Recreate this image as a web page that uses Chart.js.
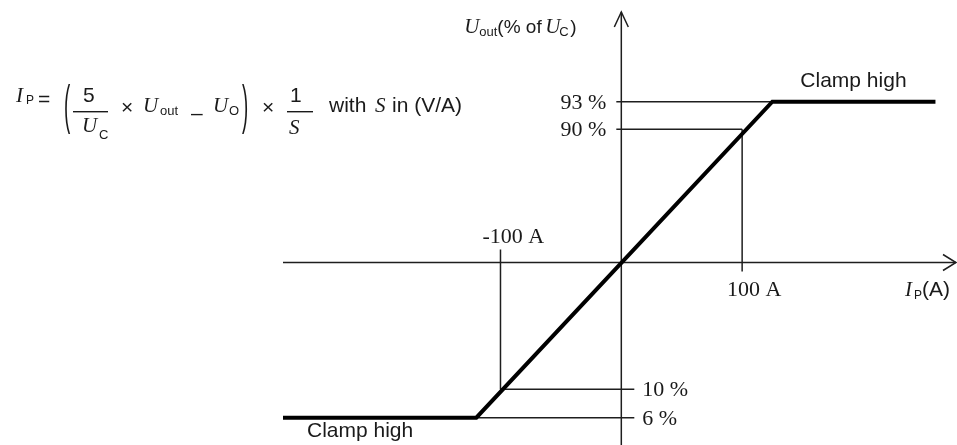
<!DOCTYPE html>
<html><head><meta charset="utf-8">
<script src="https://cdn.jsdelivr.net/npm/chart.js@4.4.1/dist/chart.umd.min.js"></script>
<style>html,body{margin:0;padding:0;background:#fff}#wrap{width:957px;height:445px;position:relative}</style>
</head><body><div id="wrap"><canvas id="c"></canvas></div>
<script>
// ---------------- data ----------------
const transferCurrentA = [-280, -120, 125, 260];   // I_P (A) of the transfer curve vertices
const transferOutputPct = [6, 6, 93, 93];          // U_out (% of U_C)
const markCurrentsA = [100, -100];                 // marked currents
const markOutputsPct = [90, 10];                   // output at marked currents
const clampLevelsPct = [93, 6];
const clampLabels = ["Clamp high", "Clamp high"];
const yTickValues = [93, 90, 10, 6];
const yTickLabels = ["93 %", "90 %", "10 %", "6 %"];
const xTickValues = [-100, 100];
const xTickLabels = ["-100 A", "100 A"];
const originOutputPct = 50;

// ---------------- layout (schematic, non-proportional U_out axis) ----------------
const yLayoutStops = [[6, 0.063], [10, 0.1286], [50, 0.4215], [90, 0.7291], [93, 0.7928]];

class SchematicScale extends Chart.LinearScale {
  _dec(v) {
    const s = yLayoutStops;
    let i = 0;
    if (v >= s[s.length - 1][0]) i = s.length - 2;
    else if (v > s[0][0]) { while (v > s[i + 1][0]) i++; }
    const [v0, d0] = s[i], [v1, d1] = s[i + 1];
    return d0 + (v - v0) * (d1 - d0) / (v1 - v0);
  }
  getPixelForValue(v) { return this.getPixelForDecimal(this._dec(v)); }
  getValueForPixel(p) {
    const d = this.getDecimalForPixel(p), s = yLayoutStops;
    let i = 0;
    if (d >= s[s.length - 1][1]) i = s.length - 2;
    else if (d > s[0][1]) { while (d > s[i + 1][1]) i++; }
    const [v0, d0] = s[i], [v1, d1] = s[i + 1];
    return v0 + (d - d0) * (v1 - v0) / (d1 - d0);
  }
}
SchematicScale.id = 'schematic';
SchematicScale.defaults = Chart.LinearScale.defaults;
Chart.register(SchematicScale);

const SANS = '"Liberation Sans", Arial, sans-serif';
const SERIF = '"Liberation Serif", "Times New Roman", serif';
const INK = '#1a1a1a';

function txt(ctx, s, x, y, font, align) {
  ctx.font = font; ctx.textAlign = align || 'left'; ctx.textBaseline = 'alphabetic';
  ctx.fillText(s, x, y);
}
function bigParen(ctx, s, x, yTop, h) {
  ctx.save();
  ctx.font = '22px ' + SANS; ctx.textAlign = 'left'; ctx.textBaseline = 'top';
  const k = h / 22;
  ctx.translate(x, yTop); ctx.scale(0.85, k);
  ctx.fillText(s, 0, 0);
  ctx.restore();
}

const schematicPlugin = {
  id: 'schematic',
  beforeDatasetsDraw(chart) {
    const { ctx, chartArea: a, scales: { x, y } } = chart;
    const x0 = x.getPixelForValue(0), y0 = y.getPixelForValue(originOutputPct);
    ctx.save();
    ctx.strokeStyle = '#1e1e1e'; ctx.lineWidth = 1.5; ctx.lineCap = 'butt';
    const seg = (ax, ay, bx, by) => { ctx.beginPath(); ctx.moveTo(ax, ay); ctx.lineTo(bx, by); ctx.stroke(); };
    // axes with open arrow heads
    seg(a.left, y0, a.right, y0);
    seg(x0, a.top, x0, a.bottom);
    ctx.beginPath(); ctx.moveTo(a.right - 13, y0 - 8); ctx.lineTo(a.right, y0); ctx.lineTo(a.right - 13, y0 + 8); ctx.stroke();
    ctx.beginPath(); ctx.moveTo(x0 - 7, a.top + 15); ctx.lineTo(x0, a.top); ctx.lineTo(x0 + 7, a.top + 15); ctx.stroke();
    // clamp guide lines
    clampLevelsPct.forEach(lv => {
      const py = y.getPixelForValue(lv);
      let kx = null;
      transferCurrentA.forEach((c, i) => {
        if (transferOutputPct[i] === lv && (kx === null || Math.abs(c) < Math.abs(kx))) kx = c;
      });
      const px = x.getPixelForValue(kx);
      if (lv > originOutputPct) seg(x0 - 5, py, px, py); else seg(px, py, x0 + 13, py);
    });
    // marked points guide lines
    markCurrentsA.forEach((c, i) => {
      const px = x.getPixelForValue(c), py = y.getPixelForValue(markOutputsPct[i]);
      if (c > 0) { seg(x0 - 5, py, px, py); seg(px, py, px, y0 + 9); }
      else { seg(px, py, x0 + 13, py); seg(px, y0 - 13, px, py); }
    });
    ctx.restore();
  },
  afterDraw(chart) {
    const { ctx, chartArea: a, scales: { x, y } } = chart;
    const x0 = x.getPixelForValue(0), y0 = y.getPixelForValue(originOutputPct);
    ctx.save();
    ctx.fillStyle = INK;
    const LBL = '22px ' + SERIF;
    // y tick labels
    yTickValues.forEach((v, i) => {
      const py = y.getPixelForValue(v) + 7;
      if (v > originOutputPct) txt(ctx, yTickLabels[i], x0 - 15, py, LBL, 'right');
      else txt(ctx, yTickLabels[i], x0 + 21, py, LBL, 'left');
    });
    // x tick labels
    xTickValues.forEach((v, i) => {
      const px = x.getPixelForValue(v);
      if (v < 0) txt(ctx, xTickLabels[i], px - 18, y0 - 19, LBL, 'left');
      else txt(ctx, xTickLabels[i], px + 12, y0 + 34, LBL, 'center');
    });
    // clamp labels
    clampLevelsPct.forEach((lv, i) => {
      const py = y.getPixelForValue(lv);
      if (lv > originOutputPct) {
        const kx = x.getPixelForValue(transferCurrentA[2]);
        txt(ctx, clampLabels[i], kx + 28, py - 15, '21px ' + SANS);
      } else {
        txt(ctx, clampLabels[i], a.left + 24, py + 19, '21px ' + SANS);
      }
    });
    // x axis title  I_P(A)
    const bx = a.right - 51, by = y0 + 34;
    txt(ctx, 'I', bx, by, 'italic 21px ' + SERIF);
    txt(ctx, 'P', bx + 9, by + 3, '12px ' + SANS);
    txt(ctx, '(A)', bx + 17, by, '21px ' + SANS);
    // y axis title  U_out(% of U_C)
    const tx = x0 - 157, ty = a.top + 21;
    txt(ctx, 'U', tx, ty, 'italic 21px ' + SERIF);
    txt(ctx, 'out', tx + 15, ty + 3, '13px ' + SANS);
    txt(ctx, '(% of ', tx + 33, ty, '19px ' + SANS);
    txt(ctx, 'U', tx + 81, ty, 'italic 21px ' + SERIF);
    txt(ctx, 'C', tx + 95, ty + 3, '13px ' + SANS);
    txt(ctx, ')', tx + 106, ty, '19px ' + SANS);
    // formula
    txt(ctx, 'I', 16, 102, 'italic 21px ' + SERIF);
    txt(ctx, 'P', 26, 104, '12px ' + SANS);
    txt(ctx, '=', 38, 106, '21px ' + SANS);
    bigParen(ctx, '(', 64, 82, 53);
    txt(ctx, '5', 83, 102, '21px ' + SANS);
    ctx.fillRect(73, 111, 35, 1.4);
    txt(ctx, 'U', 82, 132, 'italic 21px ' + SERIF);
    txt(ctx, 'C', 99, 139, '13px ' + SANS);
    txt(ctx, '×', 121, 114, '21px ' + SANS);
    txt(ctx, 'U', 143, 112, 'italic 21px ' + SERIF);
    txt(ctx, 'out', 160, 115, '13px ' + SANS);
    txt(ctx, '–', 191, 120, '21px ' + SANS);
    txt(ctx, 'U', 213, 112, 'italic 21px ' + SERIF);
    txt(ctx, 'O', 229, 115, '13px ' + SANS);
    bigParen(ctx, ')', 242, 82, 53);
    txt(ctx, '×', 262, 114, '21px ' + SANS);
    txt(ctx, '1', 290, 102, '21px ' + SANS);
    ctx.fillRect(287, 111, 26, 1.4);
    txt(ctx, 'S', 289, 134, 'italic 21px ' + SERIF);
    txt(ctx, 'with', 329, 112, '21px ' + SANS);
    txt(ctx, 'S', 375, 112, 'italic 21px ' + SERIF);
    txt(ctx, 'in (V/A)', 392, 112, '21px ' + SANS);
    ctx.restore();
  }
};

new Chart(document.getElementById('c'), {
  type: 'line',
  data: {
    datasets: [{
      label: 'U_out',
      data: transferCurrentA.map((c, i) => ({ x: c, y: transferOutputPct[i] })),
      borderColor: '#000',
      borderWidth: 4,
      pointRadius: 0,
      tension: 0,
      fill: false,
      borderJoinStyle: 'miter',
      clip: false
    }]
  },
  options: {
    responsive: true,
    maintainAspectRatio: false,
    animation: false,
    layout: { padding: { left: 283, top: 12, right: 1, bottom: 0 } },
    plugins: { legend: { display: false }, tooltip: { enabled: false } },
    scales: {
      x: { type: 'linear', min: -280, max: 277, display: false },
      y: { type: 'schematic', min: 2, max: 103, display: false }
    }
  },
  plugins: [schematicPlugin]
});
</script></body></html>
